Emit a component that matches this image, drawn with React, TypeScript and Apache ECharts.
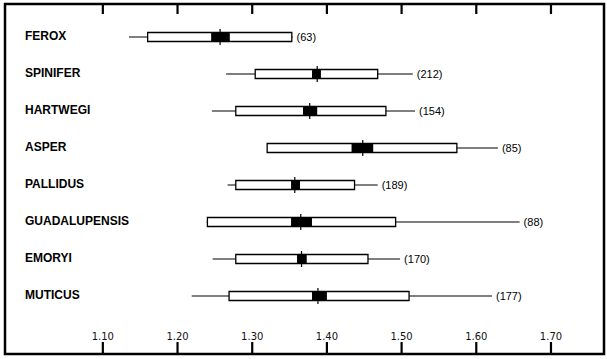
import React, { useEffect, useRef } from "react";
import * as echarts from "echarts";

const categories = ["FEROX", "SPINIFER", "HARTWEGI", "ASPER", "PALLIDUS", "GUADALUPENSIS", "EMORYI", "MUTICUS"];
const rangeMin = [1.135, 1.265, 1.246, 1.320, 1.267, 1.239, 1.247, 1.219];
const sdLow = [1.160, 1.304, 1.278, 1.320, 1.278, 1.240, 1.278, 1.269];
const sdHigh = [1.353, 1.468, 1.479, 1.574, 1.437, 1.492, 1.455, 1.510];
const ciLow = [1.245, 1.380, 1.368, 1.433, 1.352, 1.352, 1.360, 1.380];
const ciHigh = [1.270, 1.392, 1.387, 1.462, 1.364, 1.380, 1.373, 1.400];
const means = [1.257, 1.387, 1.377, 1.448, 1.357, 1.365, 1.366, 1.388];
const rangeMax = [1.354, 1.515, 1.518, 1.629, 1.468, 1.658, 1.498, 1.621];
const counts = [63, 212, 154, 85, 189, 88, 170, 177];
const tickValues = [1.1, 1.2, 1.3, 1.4, 1.5, 1.6, 1.7];

export default function App() {
  const ref = useRef<HTMLDivElement>(null);
  useEffect(() => {
    if (!ref.current) return;
    const chart = echarts.init(ref.current, null, { renderer: "svg" });
    const data = categories.map((_, i) => [
      i, rangeMin[i], sdLow[i], sdHigh[i], ciLow[i], ciHigh[i], means[i], rangeMax[i], counts[i],
    ]);
    const xMin = 0.969;
    const xMax = 1.771;
    chart.setOption({
      animation: false,
      backgroundColor: "#ffffff",
      grid: { left: 5, right: 3, top: 4, bottom: 5, show: true, borderColor: "#000", borderWidth: 2.5, backgroundColor: "transparent" },
      xAxis: { type: "value", min: xMin, max: xMax, show: false, splitLine: { show: false } },
      yAxis: { type: "value", inverse: true, min: -0.892, max: 8.568, show: false, splitLine: { show: false } },
      series: [
        {
          type: "custom",
          data: tickValues.map((v) => [v, 0]),
          encode: { x: 0, y: 1 },
          clip: false,
          z: 10,
          renderItem: (params: any, api: any) => {
            const v = api.value(0);
            const cs = params.coordSys;
            const x = api.coord([v, 0])[0];
            const top = cs.y;
            const bottom = cs.y + cs.height;
            const st = { stroke: "#000", lineWidth: 2.2 };
            return {
              type: "group",
              children: [
                { type: "line", shape: { x1: x, y1: top, x2: x, y2: top + 10 }, style: st },
                { type: "line", shape: { x1: x, y1: bottom - 12, x2: x, y2: bottom }, style: st },
                {
                  type: "text",
                  x: x,
                  y: bottom - 18,
                  style: { text: v.toFixed(2), fill: "#111", fontSize: 10, fontFamily: "DejaVu Sans", align: "center", verticalAlign: "middle" },
                },
              ],
            };
          },
        },
        {
          type: "custom",
          data,
          encode: { x: [1, 2, 3, 4, 5, 6, 7], y: 0 },
          clip: false,
          renderItem: (params: any, api: any) => {
            const idx = api.value(0);
            const y = api.coord([xMin, idx])[1];
            const px = (v: number) => api.coord([v, idx])[0];
            const xr0 = px(api.value(1));
            const xb0 = px(api.value(2));
            const xb1 = px(api.value(3));
            const xc0 = px(api.value(4));
            const xc1 = px(api.value(5));
            const xm = px(api.value(6));
            const xr1 = px(api.value(7));
            const n = api.value(8);
            const bh = 9;
            const line = { stroke: "#000", lineWidth: 1.2 };
            return {
              type: "group",
              children: [
                { type: "line", shape: { x1: xr0, y1: y, x2: xr1, y2: y }, style: line },
                { type: "rect", shape: { x: xb0, y: y - bh / 2, width: xb1 - xb0, height: bh }, style: { fill: "#fff", stroke: "#000", lineWidth: 1.3 } },
                { type: "rect", shape: { x: xc0, y: y - bh / 2 - 0.5, width: xc1 - xc0, height: bh + 1 }, style: { fill: "#000" } },
                { type: "line", shape: { x1: xm, y1: y - 8, x2: xm, y2: y + 8 }, style: line },
                {
                  type: "text",
                  x: xr1 + 4,
                  y: y,
                  style: { text: "(" + n + ")", fill: "#000", fontSize: 11, fontFamily: "Liberation Sans", verticalAlign: "middle", align: "left" },
                },
                {
                  type: "text",
                  x: params.coordSys.x + 20,
                  y: y - 1,
                  style: { text: categories[idx], fill: "#000", fontSize: 12, fontWeight: "bold", fontFamily: "Liberation Sans", verticalAlign: "middle", align: "left" },
                },
              ],
            };
          },
        },
      ],
    });
    return () => chart.dispose();
  }, []);
  return <div ref={ref} style={{ width: 607, height: 359, position: "absolute", left: 0, top: 0 }} />;
}
